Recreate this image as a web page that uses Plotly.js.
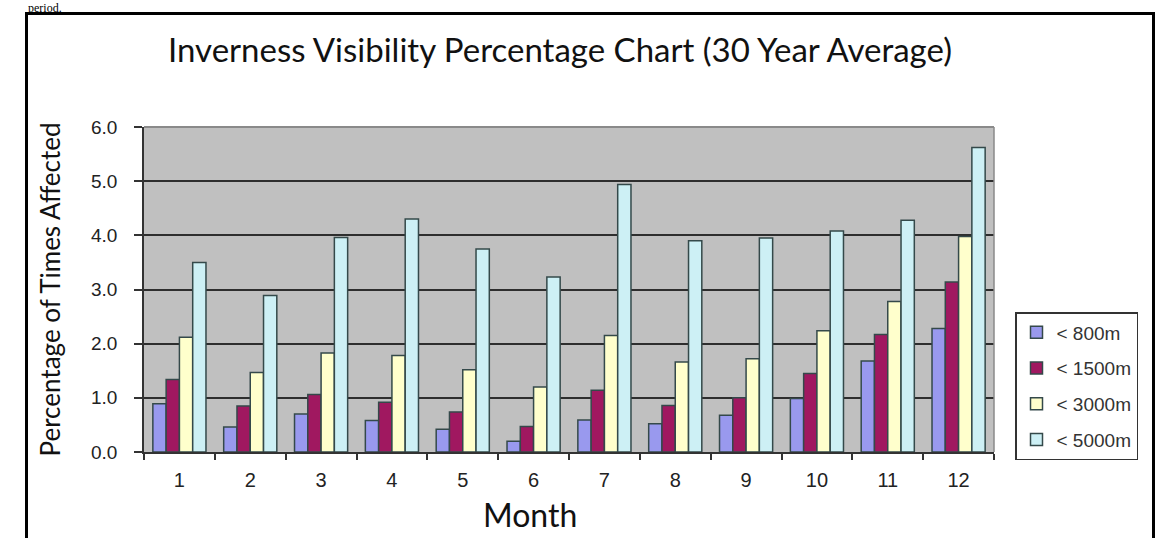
<!DOCTYPE html>
<html>
<head>
<meta charset="utf-8">
<script src="https://cdn.plot.ly/plotly-3.0.1.min.js"></script>
<style>
html,body{margin:0;padding:0;background:#fff;}
#chart{width:1157px;height:538px;}
</style>
</head>
<body>
<div id="chart"></div>
<script>
const months = ["1","2","3","4","5","6","7","8","9","10","11","12"];
const seriesNames = ["< 800m","< 1500m","< 3000m","< 5000m"];
const vis800  = [0.89,0.46,0.70,0.58,0.42,0.20,0.59,0.52,0.68,0.99,1.68,2.28];
const vis1500 = [1.34,0.85,1.06,0.92,0.74,0.47,1.14,0.86,1.00,1.45,2.17,3.14];
const vis3000 = [2.12,1.47,1.83,1.78,1.52,1.20,2.15,1.66,1.72,2.24,2.78,3.98];
const vis5000 = [3.50,2.89,3.96,4.30,3.75,3.23,4.94,3.90,3.95,4.08,4.28,5.62];
const yTicks = [0,1,2,3,4,5,6];
const yTickText = ["0.0","1.0","2.0","3.0","4.0","5.0","6.0"];

const colors = ["#9999ee","#a01860","#ffffcc","#cdf0f5"];
const values = [vis800, vis1500, vis3000, vis5000];

const traces = values.map((v,i)=>({
  type:"bar",
  x: months,
  y: v,
  name: seriesNames[i],
  legendgroup: "g"+i,
  marker:{color:colors[i], line:{color:"#34494a", width:1.5}},
  hoverinfo:"x+y+name"
}));

// plot area in px: left 144, right 994, top 127, bottom 452
const L=144, R=994, T=127, B=452;
const xp = px => (px-L)/(R-L);
const yp = py => (B-py)/(B-T);

const layout = {
  width:1157, height:538,
  margin:{l:L, r:1157-R, t:T, b:538-B, pad:0},
  paper_bgcolor:"#ffffff",
  plot_bgcolor:"#c0c0c0",
  barmode:"group",
  bargap:0.25,
  bargroupgap:0,
  showlegend:true,
  title:{
    text:"Inverness Visibility Percentage Chart (30 Year Average)",
    font:{family:"Lato, 'Open Sans', sans-serif", size:33, color:"#111"},
    xref:"container", x:560/1157, xanchor:"center",
    yref:"container", y:1-50/538, yanchor:"middle"
  },
  xaxis:{
    type:"category",
    tickvals: months,
    ticktext: months,
    ticks:"outside", ticklen:6, tickwidth:1.5, tickcolor:"#333",
    tickson:"boundaries",
    ticklabelstandoff:9,
    showline:true, linecolor:"#333", linewidth:1.5,
    showgrid:false, zeroline:false,
    tickfont:{family:"'Liberation Sans', Arial, sans-serif", size:20, color:"#222"},
    fixedrange:true
  },
  yaxis:{
    range:[0,6],
    tickvals:yTicks, ticktext:yTickText,
    ticks:"outside", ticklen:8, tickwidth:1.5, tickcolor:"#333",
    ticklabelstandoff:13,
    showline:true, linecolor:"#333", linewidth:1.5,
    showgrid:true, gridcolor:"#2e2e2e", gridwidth:2,
    zeroline:false,
    tickfont:{family:"'Liberation Sans', Arial, sans-serif", size:19, color:"#222"},
    title:{text:"Percentage of Times Affected", standoff:23,
      font:{family:"Lato, 'Open Sans', sans-serif", size:26, color:"#111"}},
    fixedrange:true
  },
  legend:{
    x:xp(1015), xanchor:"left",
    y:yp(312), yanchor:"top",
    bordercolor:"#333", borderwidth:1.5,
    bgcolor:"#ffffff",
    font:{family:"'Liberation Sans', Arial, sans-serif", size:19, color:"#333"},
    tracegroupgap:8,
    traceorder:"grouped",
    itemwidth:30,
    itemclick:false, itemdoubleclick:false
  },
  shapes:[
    {type:"line", xref:"paper", yref:"paper", x0:0, x1:1, y0:1, y1:1,
     line:{color:"#8a8a8a", width:2}, layer:"above"},
    {type:"line", xref:"paper", yref:"paper", x0:1, x1:1, y0:0, y1:1,
     line:{color:"#8a8a8a", width:1.5}, layer:"above"},
    {type:"rect", xref:"paper", yref:"paper",
     x0:xp(26.5), x1:xp(1153.5), y0:yp(600), y1:yp(13.5),
     line:{color:"#000", width:3}, fillcolor:"rgba(0,0,0,0)", layer:"above"}
  ],
  annotations:[
    {text:"Month", xref:"paper", yref:"paper", x:xp(530), y:yp(514),
     xanchor:"center", yanchor:"middle", showarrow:false,
     font:{family:"Lato, 'Open Sans', sans-serif", size:32, color:"#111"}},
    {text:"period.", xref:"paper", yref:"paper", x:xp(26), y:yp(-1),
     xanchor:"left", yanchor:"top", showarrow:false,
     font:{family:"'Liberation Serif', 'Times New Roman', serif", size:12, color:"#000"}}
  ]
};

Plotly.newPlot("chart", traces, layout, {staticPlot:false, displayModeBar:false});
</script>
</body>
</html>
